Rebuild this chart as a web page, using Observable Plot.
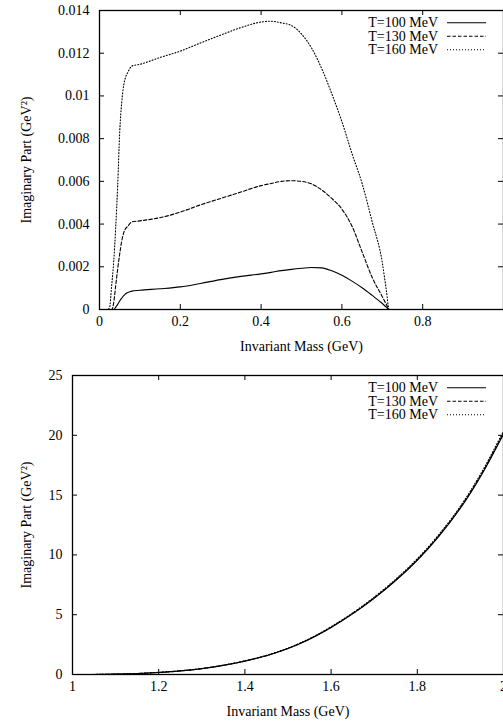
<!DOCTYPE html>
<html><head><meta charset="utf-8">
<script src="https://cdn.jsdelivr.net/npm/d3@7"></script>
<script src="https://cdn.jsdelivr.net/npm/@observablehq/plot@0.6"></script>
<style>
html,body{margin:0;padding:0;background:#fff;overflow:hidden;width:503px;height:722px}
#chart{width:503px;overflow:hidden}
#chart svg{display:block;max-width:none !important}
#chart svg text{font-family:"Liberation Serif","Times New Roman",Times,serif !important}
</style></head><body><div id="chart"></div>
<script>
// ---------- data: top panel (low invariant mass) ----------
const massLow = [0, 0.02, 0.025, 0.03, 0.035, 0.04, 0.045, 0.05, 0.055, 0.06, 0.065, 0.07, 0.075, 0.08, 0.1, 0.15, 0.2, 0.25, 0.3, 0.35, 0.4, 0.425, 0.45, 0.475, 0.5, 0.525, 0.55, 0.575, 0.6, 0.625, 0.65, 0.675, 0.7, 0.71, 0.717, 0.8, 1.0];
const imT100Low = [0, 0, 0, 0, 0, 0.0001, 0.00024, 0.0004, 0.00053, 0.00065, 0.00074, 0.0008, 0.00083, 0.00086, 0.0009, 0.00097, 0.00106, 0.00122, 0.0014, 0.00155, 0.00167, 0.00174, 0.00182, 0.00188, 0.00193, 0.00197, 0.00195, 0.00181, 0.0016, 0.00133, 0.00102, 0.00066, 0.00028, 0.00011, 0, 0, 0];
const imT130Low = [0, 0, 0, 0, 0.0003, 0.0011, 0.0019, 0.0026, 0.0032, 0.0036, 0.0038, 0.0039, 0.00402, 0.0041, 0.00415, 0.0043, 0.00456, 0.0049, 0.0052, 0.0055, 0.0058, 0.0059, 0.006, 0.00603, 0.006, 0.00588, 0.0056, 0.0052, 0.0047, 0.0039, 0.0027, 0.0015, 0.0006, 0.00024, 0, 0, 0];
const imT160Low = [0, 0, 0.0001, 0.0011, 0.0022, 0.0038, 0.0058, 0.0083, 0.0097, 0.0105, 0.0109, 0.0111, 0.01128, 0.0114, 0.01148, 0.0118, 0.0121, 0.01248, 0.01285, 0.0132, 0.01346, 0.0135, 0.01342, 0.0133, 0.0129, 0.01224, 0.01128, 0.0101, 0.0088, 0.0073, 0.0059, 0.0041, 0.0022, 0.0009, 0, 0, 0];

// ---------- data: bottom panel (high invariant mass) ----------
const massHigh = [1.0, 1.05, 1.1, 1.15, 1.2, 1.25, 1.3, 1.35, 1.4, 1.45, 1.5, 1.55, 1.6, 1.65, 1.7, 1.75, 1.8, 1.85, 1.9, 1.95, 2.0];
const imT100High = [0, 0.005, 0.03, 0.08, 0.17, 0.3, 0.49, 0.76, 1.12, 1.57, 2.17, 2.95, 3.93, 5.07, 6.37, 7.85, 9.55, 11.55, 13.9, 16.75, 20.1];
const imT130High = [0, 0.005, 0.03, 0.08, 0.17, 0.3, 0.49, 0.77, 1.13, 1.58, 2.18, 2.97, 3.95, 5.1, 6.41, 7.9, 9.6, 11.61, 13.97, 16.83, 20.2];
const imT160High = [0, 0.006, 0.032, 0.085, 0.18, 0.31, 0.5, 0.78, 1.14, 1.6, 2.21, 3.0, 4.0, 5.15, 6.47, 7.97, 9.68, 11.7, 14.07, 16.95, 20.35];

// ---------- labels & ticks ----------
const seriesNames = ["T=100 MeV", "T=130 MeV", "T=160 MeV"];
const xTicksLow = [0, 0.2, 0.4, 0.6, 0.8];
const yTicksLow = [0, 0.002, 0.004, 0.006, 0.008, 0.01, 0.012, 0.014];
const xTicksHigh = [1, 1.2, 1.4, 1.6, 1.8, 2];
const yTicksHigh = [0, 5, 10, 15, 20, 25];
const xLabel = "Invariant Mass (GeV)";
const yLabel = "Imaginary Part (GeV²)";

// styles
const dashStyles = ["none", "3.5,2", "1,2"];
const FONT = "Liberation Serif, Times New Roman, serif";

function legendMark() {
  return (index, scales, values, dims) => {
    const g = d3.create("svg:g").attr("font-size", 14);
    const right = dims.width - dims.marginRight;
    const top = dims.marginTop;
    seriesNames.forEach((name, i) => {
      const y = top + 12.7 + i * 13.5;
      g.append("text").attr("x", right - 65).attr("y", y).attr("text-anchor", "end")
        .attr("dy", "0.32em").attr("fill", "black").text(name);
      g.append("line").attr("x1", right - 56).attr("x2", right - 17).attr("y1", y).attr("y2", y)
        .attr("stroke", "black").attr("stroke-width", 1.1)
        .attr("stroke-dasharray", dashStyles[i]);
    });
    return g.node();
  };
}

function panel({mass, series, xDomain, yDomain, xTicks, yTicks, marginLeft, marginTop, marginBottom, height, yLabelDx, curve}) {
  const width = 520, marginRight = 17;
  const pw = width - marginLeft - marginRight;
  const ph = height - marginTop - marginBottom;
  const rows = [];
  series.forEach((vals, s) => mass.forEach((m, i) => rows.push({m, v: vals[i], s})));
  const t = 5;
  const fmt = d => String(d);
  return Plot.plot({
    width, height, marginLeft, marginRight, marginTop, marginBottom,
    style: "font-family: 'Liberation Serif', 'Times New Roman', serif; font-size: 14px; background: white; color: black; max-width: none;",
    x: {domain: xDomain},
    y: {domain: yDomain},
    marks: [
      ...series.map((_, s) => Plot.line(rows.filter(r => r.s === s), {
        x: "m", y: "v", curve, stroke: "black", strokeWidth: 1.1,
        strokeDasharray: dashStyles[s], clip: true
      })),
      // inward ticks on all four sides
      Plot.tickX(xTicks, {x: d => d, insetTop: ph - t, stroke: "black", strokeWidth: 1}),
      Plot.tickX(xTicks, {x: d => d, insetBottom: ph - t, stroke: "black", strokeWidth: 1}),
      Plot.tickY(yTicks, {y: d => d, insetRight: pw - t, stroke: "black", strokeWidth: 1}),
      Plot.tickY(yTicks, {y: d => d, insetLeft: pw - t, stroke: "black", strokeWidth: 1}),
      Plot.axisX({ticks: xTicks, tickFormat: fmt, tickSize: 0, tickPadding: 7, label: null, fontFamily: FONT, fontSize: 14}),
      Plot.axisY({ticks: yTicks, tickFormat: fmt, tickSize: 0, tickPadding: 10, label: null, fontFamily: FONT, fontSize: 14}),
      Plot.frame({stroke: "black", strokeWidth: 1.3}),
      Plot.text([xLabel], {text: d => d, frameAnchor: "bottom", dy: 37, lineAnchor: "middle", fill: "black", fontFamily: FONT, fontSize: 14}),
      Plot.text([yLabel], {text: d => d, frameAnchor: "left", dx: yLabelDx, rotate: -90, lineAnchor: "middle", textAnchor: "middle", fill: "black", fontFamily: FONT, fontSize: 14}),
      legendMark()
    ]
  });
}

const root = document.getElementById("chart");
root.append(panel({
  mass: massLow, series: [imT100Low, imT130Low, imT160Low],
  xDomain: [0, 1], yDomain: [0, 0.014], xTicks: xTicksLow, yTicks: yTicksLow,
  marginLeft: 99, marginTop: 10, marginBottom: 51, height: 360, yLabelDx: -73, curve: "monotone-x"
}));
root.append(panel({
  mass: massHigh, series: [imT100High, imT130High, imT160High],
  xDomain: [1, 2], yDomain: [0, 25], xTicks: xTicksHigh, yTicks: yTicksHigh,
  marginLeft: 72, marginTop: 15, marginBottom: 48, height: 362, yLabelDx: -46, curve: "catmull-rom"
}));
</script></body></html>
